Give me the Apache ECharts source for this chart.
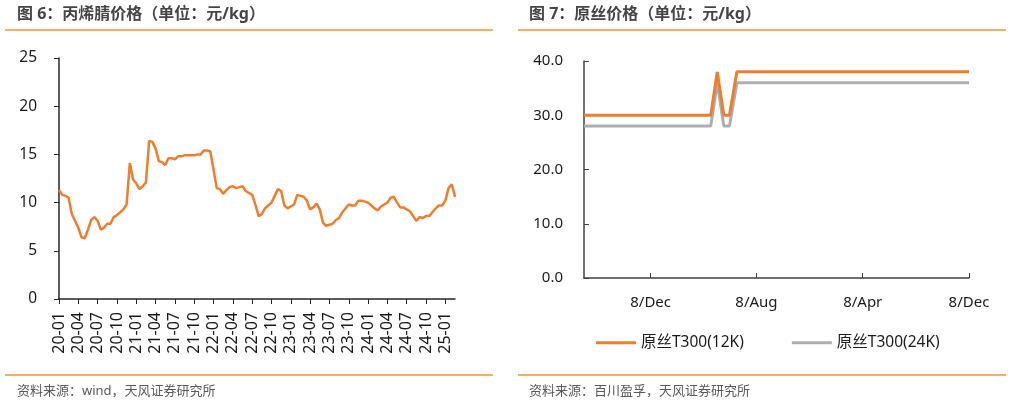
<!DOCTYPE html>
<html><head><meta charset="utf-8">
<script src="https://cdn.jsdelivr.net/npm/echarts@6/dist/echarts.min.js"></script>
<style>html,body{margin:0;padding:0;background:#fff}#c{width:1011px;height:403px}</style>
</head><body><div id="c"></div>
<script>
// ---- Figure 6: acrylonitrile price (semi-monthly) ----
const acnDates = [
"2020-01-01","2020-01-16","2020-02-01","2020-02-16","2020-03-01","2020-03-16","2020-04-01","2020-04-16","2020-05-01","2020-05-16","2020-06-01","2020-06-16",
"2020-07-01","2020-07-16","2020-08-01","2020-08-16","2020-09-01","2020-09-16","2020-10-01","2020-10-16","2020-11-01","2020-11-16","2020-12-01","2020-12-16",
"2021-01-01","2021-01-16","2021-02-01","2021-02-16","2021-03-01","2021-03-16","2021-04-01","2021-04-16","2021-05-01","2021-05-16","2021-06-01","2021-06-16",
"2021-07-01","2021-07-16","2021-08-01","2021-08-16","2021-09-01","2021-09-16","2021-10-01","2021-10-16","2021-11-01","2021-11-16","2021-12-01","2021-12-16",
"2022-01-01","2022-01-16","2022-02-01","2022-02-16","2022-03-01","2022-03-16","2022-04-01","2022-04-16","2022-05-01","2022-05-16","2022-06-01","2022-06-16",
"2022-07-01","2022-07-16","2022-08-01","2022-08-16","2022-09-01","2022-09-16","2022-10-01","2022-10-16","2022-11-01","2022-11-16","2022-12-01","2022-12-16",
"2023-01-01","2023-01-16","2023-02-01","2023-02-16","2023-03-01","2023-03-16","2023-04-01","2023-04-16","2023-05-01","2023-05-16","2023-06-01","2023-06-16",
"2023-07-01","2023-07-16","2023-08-01","2023-08-16","2023-09-01","2023-09-16","2023-10-01","2023-10-16","2023-11-01","2023-11-16","2023-12-01","2023-12-16",
"2024-01-01","2024-01-16","2024-02-01","2024-02-16","2024-03-01","2024-03-16","2024-04-01","2024-04-16","2024-05-01","2024-05-16","2024-06-01","2024-06-16",
"2024-07-01","2024-07-16","2024-08-01","2024-08-16","2024-09-01","2024-09-16","2024-10-01","2024-10-16","2024-11-01","2024-11-16","2024-12-01","2024-12-16",
"2025-01-01","2025-01-16","2025-02-01","2025-02-16"];
const acnPrice = [
11.3,10.8,10.7,10.5,8.8,8.1,7.4,6.4,6.3,7.2,
8.2,8.5,8.1,7.2,7.4,7.8,7.8,8.5,8.7,9.0,
9.3,9.8,14.1,12.4,12.0,11.4,11.7,12.1,16.4,16.3,
15.6,14.3,14.2,13.9,14.6,14.6,14.5,14.8,14.8,14.9,
14.9,14.9,14.9,15.0,15.0,15.4,15.4,15.3,13.4,11.5,
11.4,10.9,11.3,11.6,11.7,11.5,11.6,11.7,11.2,11.0,
10.8,9.8,8.6,8.8,9.4,9.7,10.0,10.7,11.4,11.2,
9.7,9.4,9.6,9.8,10.8,10.7,10.6,10.2,9.3,9.5,
9.9,9.3,7.9,7.6,7.7,7.8,8.2,8.4,9.0,9.4,
9.8,9.7,9.7,10.2,10.2,10.1,10.0,9.7,9.4,9.2,
9.6,9.8,10.0,10.5,10.6,10.0,9.5,9.5,9.3,9.1,
8.6,8.1,8.5,8.4,8.6,8.6,9.0,9.4,9.7,9.7,
10.2,11.5,11.9,10.6];
const acnTickMonths = ["01","04","07","10"];

// ---- Figure 7: precursor fibre price ----
const fibreDates = ["2022-07-08","2023-04-25","2023-05-10","2023-05-25","2023-06-07","2023-06-24","2024-12-08"];
const t300_12k = [30,30,38,30,30,38,38];
const t300_24k = [28,28,36,28,28,36,36];
const fibreTickDates = ["2022-12-08","2023-08-08","2024-04-08","2024-12-08"];
const monthNames = ["Jan","Feb","Mar","Apr","May","Jun","Jul","Aug","Sep","Oct","Nov","Dec"];

const FONT = '"Noto Sans","Noto Sans CJK SC",sans-serif';
const ORANGE = '#ED7D31';
const GREY = '#AEAEAE';
const RULE = '#F39232';

function isQuarterStart(idx){
  const d = acnDates[idx];
  return d.slice(8) === '01' && acnTickMonths.indexOf(d.slice(5,7)) >= 0;
}
function ts(s){const p=s.split('-');return Date.UTC(+p[0],+p[1]-1,+p[2]);}
const fibreTicks = fibreTickDates.map(ts);

const chart = echarts.init(document.getElementById('c'), null, {renderer:'canvas'});
chart.setOption({
  animation:false,
  textStyle:{fontFamily:FONT},
  title:[
    {text:'图 6：丙烯腈价格（单位：元/kg）',left:17,top:6,padding:0,textStyle:{fontSize:16,fontWeight:'bold',color:'#454545',fontFamily:FONT}},
    {text:'图 7：原丝价格（单位：元/kg）',left:529,top:6,padding:0,textStyle:{fontSize:16,fontWeight:'bold',color:'#454545',fontFamily:FONT}},
    {text:'资料来源：wind，天风证券研究所',left:17,top:385,padding:0,textStyle:{fontSize:13,fontWeight:'normal',color:'#595959',fontFamily:FONT}},
    {text:'资料来源：百川盈孚，天风证券研究所',left:529,top:385,padding:0,textStyle:{fontSize:13,fontWeight:'normal',color:'#595959',fontFamily:FONT}}
  ],
  graphic:[
    {type:'line',shape:{x1:5,y1:30,x2:493,y2:30},style:{stroke:RULE,lineWidth:1.5}},
    {type:'line',shape:{x1:518,y1:30,x2:1006,y2:30},style:{stroke:RULE,lineWidth:1.5}},
    {type:'line',shape:{x1:5,y1:375,x2:493,y2:375},style:{stroke:RULE,lineWidth:1.5}},
    {type:'line',shape:{x1:518,y1:375,x2:1006,y2:375},style:{stroke:RULE,lineWidth:1.5}}
  ],
  legend:{
    data:['原丝T300(12K)','原丝T300(24K)'],
    left:596, top:335, padding:0, icon:'rect', itemWidth:40, itemHeight:3, itemGap:48,
    textStyle:{fontSize:15.5,color:'#1a1a1a',fontFamily:FONT}
  },
  grid:[
    {left:59,top:58,width:396,height:241,containLabel:false},
    {left:584,top:61,width:385,height:217,containLabel:false}
  ],
  xAxis:[
    {type:'category',gridIndex:0,data:acnDates,boundaryGap:false,
     axisLine:{lineStyle:{color:'#262626',width:1.5}},
     axisTick:{interval:(i)=>isQuarterStart(i),length:5,lineStyle:{color:'#262626'}},
     axisLabel:{interval:(i)=>isQuarterStart(i),rotate:90,margin:13,fontSize:16,color:'#1a1a1a',
       formatter:(v)=>v.slice(2,7)}},
    {type:'value',gridIndex:1,min:ts(fibreDates[0]),max:ts(fibreDates[fibreDates.length-1]),
     axisLine:{lineStyle:{color:'#404040',width:1.5}},
     axisTick:{show:true,inside:true,length:5,customValues:fibreTicks,lineStyle:{color:'#404040'}},
     axisLabel:{customValues:fibreTicks,margin:17,fontSize:15,color:'#1a1a1a',hideOverlap:false,
       showMinLabel:true,showMaxLabel:true,
       formatter:(v)=>{const d=new Date(v);return d.getUTCDate()+'/'+monthNames[d.getUTCMonth()];}},
     splitLine:{show:false}}
  ],
  yAxis:[
    {type:'value',gridIndex:0,min:0,max:25,interval:5,
     axisLine:{show:true,lineStyle:{color:'#262626',width:1.5}},
     axisTick:{show:true,length:5,lineStyle:{color:'#262626'}},
     axisLabel:{margin:22,fontSize:15.5,color:'#1a1a1a'},
     splitLine:{show:false}},
    {type:'value',gridIndex:1,min:0,max:40,interval:10,
     axisLine:{show:true,lineStyle:{color:'#404040',width:1.5}},
     axisTick:{show:true,inside:true,length:5,lineStyle:{color:'#404040'}},
     axisLabel:{margin:21,fontSize:15,color:'#1a1a1a',formatter:(v)=>v.toFixed(1)},
     splitLine:{show:false}}
  ],
  series:[
    {name:'丙烯腈',type:'line',xAxisIndex:0,yAxisIndex:0,data:acnPrice,symbol:'none',
     lineStyle:{color:ORANGE,width:2.5},itemStyle:{color:ORANGE}},
    {name:'原丝T300(12K)',type:'line',xAxisIndex:1,yAxisIndex:1,
     data:fibreDates.map((d,i)=>[ts(d),t300_12k[i]]),symbol:'none',
     lineStyle:{color:ORANGE,width:3},itemStyle:{color:ORANGE}},
    {name:'原丝T300(24K)',type:'line',xAxisIndex:1,yAxisIndex:1,
     data:fibreDates.map((d,i)=>[ts(d),t300_24k[i]]),symbol:'none',
     lineStyle:{color:GREY,width:3},itemStyle:{color:GREY},z:1}
  ]
});
</script></body></html>
